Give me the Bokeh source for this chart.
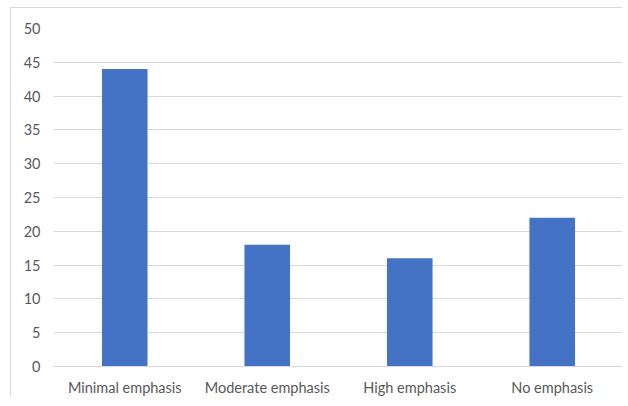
from bokeh.plotting import figure
from bokeh.models import FixedTicker, Range1d
from bokeh.embed import file_html
from bokeh.resources import INLINE

categories = ["Minimal emphasis", "Moderate emphasis", "High emphasis", "No emphasis"]
values = [44, 18, 16, 22]
y_ticks = [0, 5, 10, 15, 20, 25, 30, 35, 40, 45, 50]

p = figure(
    x_range=categories,
    y_range=Range1d(0, 50),
    width=612,
    height=390,
    output_backend="svg",
    toolbar_location=None,
    min_border_left=42,
    min_border_right=0,
    min_border_top=20,
    min_border_bottom=31,
)
p.styles = {
    "border-left": "1px solid #d9d9d9",
    "border-top": "1px solid #d9d9d9",
    "margin-left": "10px",
    "margin-top": "7px",
}

p.vbar(x=categories, top=values, width=0.32, fill_color="#4472C4", line_color=None)

p.outline_line_color = None
p.xgrid.grid_line_color = None
p.ygrid.grid_line_color = "#d9d9d9"
p.ygrid.grid_line_width = 1
p.x_range.range_padding = 0

p.yaxis.ticker = FixedTicker(ticks=y_ticks)
p.yaxis.axis_line_color = None
p.yaxis.major_tick_line_color = None
p.yaxis.minor_tick_line_color = None
p.yaxis.major_tick_out = 0
p.yaxis.major_tick_in = 0
p.yaxis.major_label_standoff = 13

p.xaxis.axis_line_color = "#d9d9d9"
p.xaxis.major_tick_line_color = None
p.xaxis.minor_tick_line_color = None
p.xaxis.major_tick_out = 0
p.xaxis.major_tick_in = 0
p.xaxis.major_label_standoff = 12

for ax in (p.xaxis, p.yaxis):
    ax.major_label_text_font = "Lato"
    ax.major_label_text_font_size = "14.5px"
    ax.major_label_text_color = "#595959"

open("out.html", "w").write(file_html(p, INLINE))
